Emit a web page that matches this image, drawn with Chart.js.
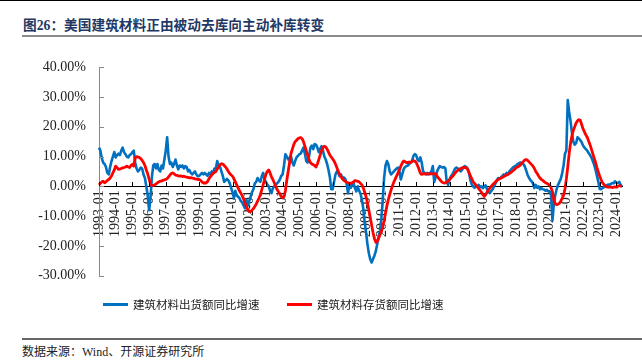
<!DOCTYPE html>
<html><head><meta charset="utf-8">
<script src="https://cdn.jsdelivr.net/npm/chart.js@4.4.1/dist/chart.umd.min.js"></script>
<style>
html,body{margin:0;padding:0;background:#fff;}
body{width:642px;height:360px;position:relative;overflow:hidden;font-family:"Liberation Serif","Noto Sans CJK SC",serif;}
#topline{position:absolute;left:0;top:0;width:642px;height:1px;background:#000;}
#title{position:absolute;left:23px;top:14px;font-size:13.7px;font-weight:bold;color:#1F3864;white-space:nowrap;}
#tline{position:absolute;left:22px;top:35px;width:620px;height:2px;background:#8c8c8c;}
#wrap{position:absolute;left:0;top:40px;width:642px;height:257px;}
.leg{position:absolute;top:296px;font-size:11.5px;line-height:16px;color:#222;font-family:"Noto Sans CJK SC",sans-serif;white-space:nowrap;}
.sw{position:absolute;top:303px;height:3px;width:25px;}
#bline{position:absolute;left:22px;top:338px;width:620px;height:1.5px;background:#666;}
#src{position:absolute;left:22px;top:344px;font-size:12px;line-height:16px;color:#222;white-space:nowrap;}
</style></head>
<body>
<div id="topline"></div>
<div id="title">图26：美国建筑材料正由被动去库向主动补库转变</div>
<div id="tline"></div>
<div id="wrap"><canvas id="c" width="642" height="257"></canvas></div>
<div class="sw" style="left:103px;background:#0070C0"></div>
<div class="leg" style="left:133px">建筑材料出货额同比增速</div>
<div class="sw" style="left:287px;background:#FF0000"></div>
<div class="leg" style="left:317px">建筑材料存货额同比增速</div>
<div id="bline"></div>
<div id="src">数据来源：Wind、开源证券研究所</div>
<script>
// categories: monthly 1993-01 .. 2024-05
const startYear = 1993, endYear = 2024, lastMonth = 5;
const categories = [];
for (let y = startYear; y <= endYear; y++) {
  for (let m = 1; m <= 12; m++) {
    if (y === endYear && m > lastMonth) break;
    categories.push(y + '-' + (m < 10 ? '0' + m : m));
  }
}
const seriesNames = ['建筑材料出货额同比增速', '建筑材料存货额同比增速'];
const yTickValues = [-30, -20, -10, 0, 10, 20, 30, 40];

// 建筑材料出货额同比增速 (%), by year
const ship1993=[13,12,9.5,8,7.5,6.5,4.5,4,6.5,8.5,10,11.5];
const ship1994=[9.7,10.5,11,10.5,12,13,11.5,10.8,10,9.7,10.5,10.8];
const ship1995=[11.5,12,8,6,5,5.5,6.3,6,4,2.8,0,-3];
const ship1996=[-8,-4,3,7,7.5,6,7.5,5.5,5,7,6,9];
const ship1997=[12,16.5,10,7.5,8,6.5,7.5,9,7,5.7,7,6.5];
const ship1998=[7,6,6.8,6.5,5,5.5,4.5,4,4.5,5,4,3.4];
const ship1999=[3.5,4,4.5,4,4.5,4,3.5,4.5,4,5,4.5,6];
const ship2000=[6,8.5,7,6.5,5,3.5,1.5,2,2.5,2,1,-0.5];
const ship2001=[-2,-4,-1.5,-3,-3.5,-4,-5,-5.5,-6.5,-7.4,-4.5,-6.5];
const ship2002=[-5,-3.5,-2,-1,1,1.5,2.8,2,1.5,3.4,4.5,2.3];
const ship2003=[1.5,0.6,0,-1.5,-2.3,-0.6,0,0.5,1,1.5,2.3,3.5];
const ship2004=[4,7,10.8,10,9,9.5,10.2,8,7,8.5,9.7,10.2];
const ship2005=[10.8,11,12,13,11,8.5,8,10,13,13.7,12.5,14.2];
const ship2006=[14,13,11.5,12.5,13.5,12,10,9,7.5,5.5,3,-1];
const ship2007=[-1,1.5,4,5,4.5,3.4,4,2.5,3,2.5,1,-2.3];
const ship2008=[0.6,-0.5,0.5,1,-0.6,-1.7,0,-1.5,-2.5,-4.5,-7.5,-12];
const ship2009=[-15.5,-19.5,-22.5,-24.5,-25.6,-24.4,-23.3,-21.8,-19.5,-17,-15,-10.8];
const ship2010=[-4.5,3,7,8.5,7.5,5,4,4.5,5,5.5,6,6.3];
const ship2011=[5,2.3,4,5.7,6.5,6.8,7,7.5,8,8.5,10.2,10.8];
const ship2012=[10.5,9,8.5,9.7,8,5,4.5,4,4.5,4,4.5,5];
const ship2013=[6.8,1.5,3,5,6,6.8,6.5,6.3,6.5,6,1.5,0.5];
const ship2014=[2.3,3.4,4,5,6,6.3,6,5.5,5,5.5,6.5,6.8];
const ship2015=[6.5,6,4.5,2,0.6,0,-0.5,0.3,0,0.5,-0.3,0];
const ship2016=[-0.6,0,0.3,-1,-2,-2.3,-1.5,-1,0,1,2,2.8];
const ship2017=[2.5,3,3.5,4,3.5,4.5,4,5,5.5,6,6.5,6.8];
const ship2018=[7,7.5,7.8,8,7.8,7.5,6.8,5.5,4,3,2.2,1.7];
const ship2019=[1,-0.6,0.5,-0.5,0,-1,-0.5,-1,-1.1,-1.5,-1.2,-1.7];
const ship2020=[-1.7,-3,-11.5,-6,-3,-1,0.5,1.5,2.5,4.5,7,11];
const ship2021=[12,29,25,22,18,15,14,14.5,16.5,16,15.5,14.8];
const ship2022=[13.7,13,12.5,12,11.2,10.5,9.7,8.5,7.2,5.5,3.5,1.5];
const ship2023=[-0.9,-1,-0.6,-0.3,0,0.3,0.6,0.5,0.8,1.1,1,1.7];
const ship2024=[1.2,1.1,1.5,0.5,0];

// 建筑材料存货额同比增速 (%), by year
const inv1993=[0.5,1,1.5,1.7,1.2,1.5,2,2.3,2.8,3.5,4.5,5.5];
const inv1994=[6.8,6.3,5.7,5.8,6,6.2,6.3,6.5,6.8,6.5,6.3,7];
const inv1995=[7.4,6.8,9.5,10,9.8,9.7,9.3,8.7,8,7,5.5,4.2];
const inv1996=[2.5,0.8,0.3,0.3,0.5,0.8,1.2,1.5,1.7,1.8,2,2.2];
const inv1997=[2.3,2.6,3.2,3.8,4.3,4.5,4.2,3.8,3.7,3.5,3.4,3.5];
const inv1998=[3.3,3.4,3.2,3.1,3,2.8,2.9,2.8,2.7,2.5,2.4,2.3];
const inv1999=[2.3,2,1.5,1.1,1.2,1.1,1.6,2.5,3.2,3.8,4.3,4.7];
const inv2000=[5,5.8,6.5,7.2,7.6,7.5,7,6.5,5.8,5,4.3,3.8];
const inv2001=[3.4,2.5,1.5,0.5,-0.5,-1.5,-2.3,-3.2,-4.3,-5.7,-6.8,-7.8];
const inv2002=[-8.5,-8.5,-8,-7.5,-6.8,-6,-5,-4,-2.8,-1.2,0.5,2.3];
const inv2003=[4,5,5.5,4.5,3.2,2.3,1.2,0,-1,-1.8,-2.5,-3.4];
const inv2004=[-3.8,-3.5,-1.5,2,5,8,11,12.5,14,15,15.5,16];
const inv2005=[16.3,16.4,16,15,13.5,12,10.5,9,8,7.5,7.3,7];
const inv2006=[6.5,7.5,9,10.5,12,13,13.5,13.2,12.5,11.5,10.5,9.8];
const inv2007=[9.2,8.5,7.5,6.3,5,4,3.2,2.6,2,1.7,1.4,1.2];
const inv2008=[1.1,1,1.2,1.5,1.9,1.8,1.7,1.5,1,0.5,-0.5,-2];
const inv2009=[-3.5,-5.5,-8,-10.5,-13,-15.5,-17.5,-18.8,-18.5,-17.5,-16.3,-15.3];
const inv2010=[-13.5,-11.5,-9,-6.5,-4.5,-2.8,-1.2,0.2,1.5,2.5,3.5,4.5];
const inv2011=[5.5,6.8,7.8,8.5,8.3,8,8,8.2,8,8.3,8.6,8.5];
const inv2012=[8,7,5.8,4.5,4,4.2,4.3,4.2,4.1,4.2,4.3,4.2];
const inv2013=[4.2,4.3,4.2,3.5,2.8,2.3,1.7,1.3,1.1,1.2,1.5,1.8];
const inv2014=[2.2,2.8,3.3,3.8,4.5,5,5.4,5.7,6,6.2,6.3,6.4];
const inv2015=[6.2,5.7,4.7,3.5,2.5,1.5,1,0.4,-0.2,-0.8,-1.4,-2];
const inv2016=[-2.8,-3.4,-2.8,-2,-1.2,-0.6,0,0.6,1,1.5,1.9,2.3];
const inv2017=[2.6,2.8,3,3.3,3.6,3.8,4,4.3,4.6,5,5.4,5.8];
const inv2018=[6.3,6.5,6.8,7.2,7.8,8.3,8.8,9,8.8,8.3,7.8,7.3];
const inv2019=[6.8,6,5,4.3,3.5,2.8,2.3,2,1.6,1.2,1,0.7];
const inv2020=[0.4,-0.5,-1.8,-4.5,-5.8,-6.2,-6,-5.7,-5,-4,-3,-0.8];
const inv2021=[2.5,6.5,11,14.5,17,18.8,20,21.3,22,22.4,22.2,20.8];
const inv2022=[19.3,18.3,17.3,16.5,15.2,14,12.5,11,9.5,8,6.3,4.8];
const inv2023=[3.4,2.2,1.2,0.6,0.2,-0.2,-0.3,-0.3,-0.2,-0.4,-0.3,-0.2];
const inv2024=[-0.3,0,0.2,0.1,0];

const shipments = [].concat(ship1993,ship1994,ship1995,ship1996,ship1997,ship1998,ship1999,ship2000,
  ship2001,ship2002,ship2003,ship2004,ship2005,ship2006,ship2007,ship2008,ship2009,ship2010,ship2011,
  ship2012,ship2013,ship2014,ship2015,ship2016,ship2017,ship2018,ship2019,ship2020,ship2021,ship2022,
  ship2023,ship2024);
const inventory = [].concat(inv1993,inv1994,inv1995,inv1996,inv1997,inv1998,inv1999,inv2000,
  inv2001,inv2002,inv2003,inv2004,inv2005,inv2006,inv2007,inv2008,inv2009,inv2010,inv2011,
  inv2012,inv2013,inv2014,inv2015,inv2016,inv2017,inv2018,inv2019,inv2020,inv2021,inv2022,
  inv2023,inv2024);

const tickMarks = {
  id: 'tickMarks',
  afterDraw(chart) {
    const {ctx, chartArea, scales: {x, y}} = chart;
    ctx.save();
    ctx.lineWidth = 1;
    ctx.strokeStyle = '#888';
    y.ticks.forEach((t, i) => {
      const py = Math.round(y.getPixelForTick(i)) + 0.5;
      ctx.beginPath(); ctx.moveTo(chartArea.left, py); ctx.lineTo(chartArea.left + 5, py); ctx.stroke();
    });
    const y0 = Math.round(y.getPixelForValue(0));
    ctx.strokeStyle = '#000';
    x.ticks.forEach((t, i) => {
      const px = Math.round(x.getPixelForTick(i)) + 0.5;
      ctx.beginPath(); ctx.moveTo(px, y0); ctx.lineTo(px, y0 - 4); ctx.stroke();
    });
    ctx.restore();
  }
};

const tickFont = {family: '"Liberation Serif", "Times New Roman", serif', size: 14};

new Chart(document.getElementById('c'), {
  type: 'line',
  data: {
    labels: categories,
    datasets: [
      {label: seriesNames[0], data: shipments, borderColor: '#0070C0', borderWidth: 2.6,
       pointRadius: 0, tension: 0, fill: false, order: 2, borderJoinStyle: 'round'},
      {label: seriesNames[1], data: inventory, borderColor: '#FF0000', borderWidth: 2.8,
       pointRadius: 0, tension: 0, fill: false, order: 1, borderJoinStyle: 'round'}
    ]
  },
  options: {
    responsive: false,
    animation: false,
    devicePixelRatio: 1,
    layout: {padding: {top: 27.3, right: 20, bottom: 7.3, left: 0}},
    plugins: {legend: {display: false}, tooltip: {enabled: false}},
    scales: {
      x: {
        type: 'category',
        position: {y: 0},
        offset: false,
        grid: {drawOnChartArea: false, drawTicks: false},
        border: {color: '#000', width: 1},
        afterBuildTicks: s => { s.ticks = s.ticks.filter(t => categories[t.value].endsWith('-01')); },
        ticks: {autoSkip: false, minRotation: 90, maxRotation: 90, padding: 4, color: '#222', font: tickFont}
      },
      y: {
        position: 'left',
        min: -30, max: 40,
        afterFit: s => { s.width = 99; },
        afterBuildTicks: s => { s.ticks = yTickValues.map(v => ({value: v})); },
        grid: {drawOnChartArea: false, drawTicks: false},
        border: {color: '#888', width: 1},
        ticks: {padding: 13, color: '#222', font: tickFont, callback: v => v.toFixed(2) + '%'}
      }
    }
  },
  plugins: [tickMarks]
});
</script>
</body></html>
